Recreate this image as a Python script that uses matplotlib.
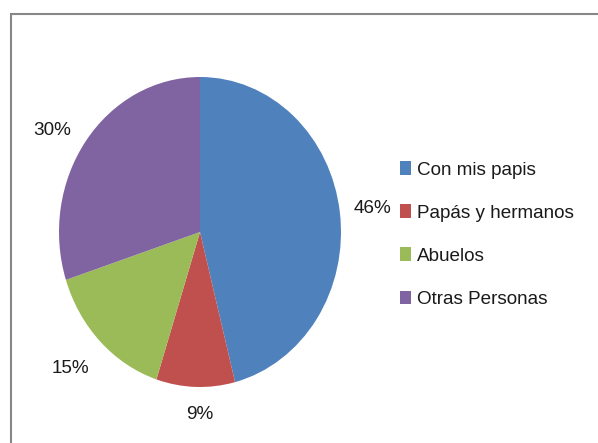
import matplotlib
matplotlib.use("Agg")
import numpy as np
import matplotlib.pyplot as plt
from matplotlib.patches import Patch, Rectangle

categories = ["Con mis papis", "Papás y hermanos", "Abuelos", "Otras Personas"]
values = [46, 9, 15, 30]
colors = ["#4F81BD", "#C0504D", "#9BBB59", "#8064A2"]
label_radii = [1.23, 1.18, 1.27, 1.24]
label_angle_shift = [0.0, 1.8, -1.2, 4.0]

plt.rcParams['font.family'] = ['Liberation Sans', 'DejaVu Sans']

W, H = 598, 443
fig = plt.figure(figsize=(W / 100, H / 100), dpi=100)
fig.patch.set_facecolor("white")

# outer frame (extends past right and bottom edges)
fig.patches.append(Rectangle((11 / W, -0.1), 1.2, (H - 14) / H + 0.1,
                             transform=fig.transFigure, fill=False,
                             edgecolor="#878787", linewidth=1.5))

ax = fig.add_axes([59 / W, (H - 387) / H, 282 / W, 310 / H])
wedges, texts = ax.pie(values, colors=colors, startangle=90, counterclock=False,
                       labels=[f"{v}%" for v in values], labeldistance=1.23,
                       wedgeprops=dict(linewidth=0),
                       textprops=dict(fontsize=13.6, color="#1a1a1a"))
for w, t, r, s in zip(wedges, texts, label_radii, label_angle_shift):
    ang = np.deg2rad((w.theta1 + w.theta2) / 2 + s)
    t.set_position((r * np.cos(ang), r * np.sin(ang)))
    t.set_ha("center")
    t.set_va("center")
ax.set_aspect("auto")
ax.set_xlim(-1, 1)
ax.set_ylim(-1, 1)

handles = [Patch(facecolor=c, edgecolor="none") for c in colors]
fig.legend(handles, categories, loc="upper left",
           bbox_to_anchor=(391 / W, (H - 152) / H), frameon=False,
           fontsize=13.6, labelspacing=1.36, handlelength=0.58, handleheight=0.72,
           handletextpad=0.32, borderpad=0, labelcolor="#1a1a1a")

fig.savefig("out.png", dpi=100)
